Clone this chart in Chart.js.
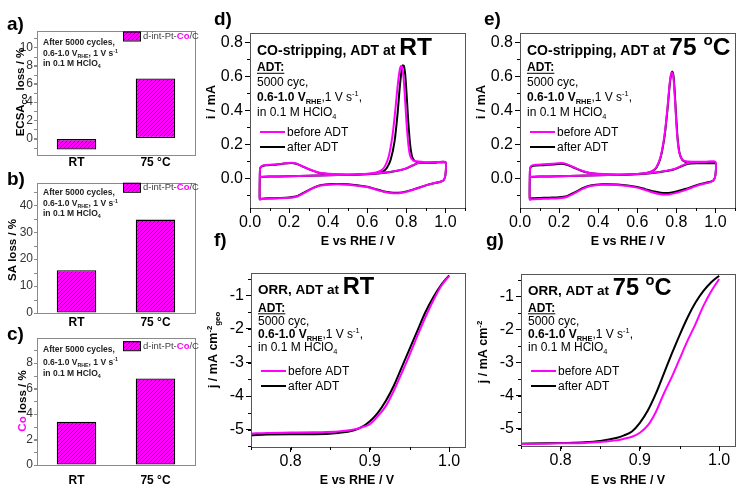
<!DOCTYPE html>
<html>
<head>
<meta charset="utf-8">
<title>d-int-Pt-Co/C ADT</title>
<script src="https://cdn.jsdelivr.net/npm/chart.js@4.4.1/dist/chart.umd.min.js"></script>
<style>
  html, body { margin: 0; padding: 0; background: #fff; }
  #fig { position: relative; width: 740px; height: 490px; overflow: hidden; }
  #fig canvas { position: absolute; left: 0; top: 0; }
</style>
</head>
<body>
<div id="fig">
  <canvas id="panel-a" width="740" height="490"></canvas>
  <canvas id="panel-b" width="740" height="490"></canvas>
  <canvas id="panel-c" width="740" height="490"></canvas>
  <canvas id="panel-d" width="740" height="490"></canvas>
  <canvas id="panel-e" width="740" height="490"></canvas>
  <canvas id="panel-f" width="740" height="490"></canvas>
  <canvas id="panel-g" width="740" height="490"></canvas>
</div>
<script>
// ---------- Data: bar panels a-c ----------
const barCats = ['RT', '75 °C'];
const ecsaLoss = [-1.2, 6.6];   // %
const saLoss = [15.9, 34.7];    // %
const coLoss = [3.4, 6.8];      // %
const ecsaTicks = [0, 2, 4, 6, 8, 10];
const saTicks = [0, 10, 20, 30, 40];
const coTicks = [0, 2, 4, 6, 8];

// ---------- Data: CO-stripping CVs (d, e) ----------
// tail of every loop: cathodic scan 1.0 -> 0.05 V, then 2nd anodic 0.05 -> 1.0 V
const cvReturnE = [1.00, 0.99, 0.97, 0.93, 0.90, 0.85, 0.80, 0.76, 0.72, 0.68, 0.64, 0.60, 0.50, 0.42, 0.36, 0.32, 0.28, 0.24, 0.20, 0.15, 0.10, 0.06, 0.05,
  0.05, 0.052, 0.06, 0.08, 0.12, 0.17, 0.21, 0.24, 0.27, 0.31, 0.35, 0.40, 0.50, 0.60, 0.68, 0.74, 0.79, 0.83, 0.86, 0.90, 1.00];

const cvRtBeforeE = [0.05, 0.10, 0.20, 0.30, 0.40, 0.50, 0.60, 0.64, 0.67, 0.69, 0.71, 0.73, 0.745, 0.755, 0.765, 0.772, 0.778, 0.785, 0.792, 0.80, 0.81, 0.82, 0.835, 0.85, 0.90, 0.95, 1.00, ...cvReturnE];
const cvRtBeforeI = [0.008, 0.010, 0.012, 0.015, 0.018, 0.021, 0.026, 0.032, 0.045, 0.07, 0.13, 0.26, 0.42, 0.54, 0.63, 0.66, 0.655, 0.60, 0.49, 0.34, 0.20, 0.13, 0.105, 0.10, 0.095, 0.095, 0.095,
  0.02, -0.012, -0.022, -0.032, -0.042, -0.062, -0.08, -0.088, -0.087, -0.078, -0.065, -0.052, -0.038, -0.036, -0.043, -0.06, -0.085, -0.108, -0.115, -0.118, -0.12, -0.122, -0.125,
  0.0, 0.06, 0.072, 0.078, 0.08, 0.087, 0.092, 0.085, 0.07, 0.05, 0.034, 0.026, 0.022, 0.025, 0.032, 0.042, 0.055, 0.075, 0.09, 0.093, 0.095];

const cvRtAfterE = [0.05, 0.10, 0.20, 0.30, 0.40, 0.50, 0.60, 0.65, 0.68, 0.70, 0.72, 0.74, 0.755, 0.765, 0.775, 0.782, 0.788, 0.795, 0.802, 0.81, 0.82, 0.83, 0.845, 0.87, 0.95, 1.00, ...cvReturnE];
const cvRtAfterI = [0.008, 0.010, 0.012, 0.015, 0.018, 0.021, 0.025, 0.03, 0.04, 0.06, 0.11, 0.22, 0.38, 0.52, 0.63, 0.665, 0.66, 0.60, 0.48, 0.33, 0.19, 0.125, 0.10, 0.093, 0.092, 0.095,
  0.02, -0.012, -0.022, -0.032, -0.042, -0.06, -0.077, -0.085, -0.084, -0.076, -0.063, -0.05, -0.035, -0.034, -0.041, -0.058, -0.082, -0.106, -0.113, -0.116, -0.118, -0.12, -0.123,
  0.0, 0.058, 0.07, 0.076, 0.079, 0.086, 0.09, 0.084, 0.069, 0.049, 0.033, 0.025, 0.021, 0.024, 0.031, 0.041, 0.054, 0.074, 0.089, 0.092, 0.095];

const cvHtBeforeE = [0.05, 0.10, 0.20, 0.30, 0.40, 0.50, 0.60, 0.65, 0.68, 0.70, 0.72, 0.74, 0.755, 0.765, 0.772, 0.778, 0.784, 0.79, 0.797, 0.805, 0.815, 0.83, 0.85, 0.90, 0.95, 1.00, ...cvReturnE];
const cvHtBeforeI = [0.008, 0.010, 0.012, 0.015, 0.018, 0.021, 0.025, 0.032, 0.045, 0.07, 0.13, 0.26, 0.42, 0.55, 0.61, 0.622, 0.60, 0.52, 0.38, 0.24, 0.15, 0.11, 0.10, 0.097, 0.097, 0.097,
  0.02, -0.013, -0.024, -0.035, -0.046, -0.068, -0.086, -0.095, -0.094, -0.084, -0.069, -0.055, -0.04, -0.038, -0.045, -0.062, -0.088, -0.11, -0.117, -0.12, -0.122, -0.124, -0.126,
  0.0, 0.06, 0.075, 0.08, 0.082, 0.086, 0.09, 0.083, 0.068, 0.048, 0.033, 0.026, 0.022, 0.025, 0.032, 0.042, 0.055, 0.075, 0.09, 0.095, 0.097];

const cvHtAfterE = [0.05, 0.10, 0.20, 0.30, 0.40, 0.50, 0.60, 0.65, 0.68, 0.70, 0.72, 0.74, 0.755, 0.765, 0.773, 0.779, 0.785, 0.791, 0.798, 0.806, 0.816, 0.83, 0.85, 0.90, 0.95, 1.00, ...cvReturnE];
const cvHtAfterI = [0.008, 0.010, 0.012, 0.015, 0.018, 0.021, 0.025, 0.031, 0.043, 0.066, 0.125, 0.25, 0.41, 0.54, 0.61, 0.628, 0.605, 0.52, 0.38, 0.24, 0.15, 0.108, 0.095, 0.09, 0.088, 0.09,
  0.02, -0.012, -0.022, -0.032, -0.042, -0.062, -0.078, -0.086, -0.085, -0.077, -0.064, -0.051, -0.037, -0.035, -0.042, -0.058, -0.083, -0.105, -0.112, -0.114, -0.116, -0.118, -0.12,
  0.0, 0.058, 0.07, 0.075, 0.077, 0.081, 0.085, 0.079, 0.065, 0.046, 0.032, 0.025, 0.021, 0.024, 0.031, 0.041, 0.053, 0.072, 0.085, 0.088, 0.09];

const cvETicks = [0, 0.2, 0.4, 0.6, 0.8, 1.0];
const cvITicks = [0, 0.2, 0.4, 0.6, 0.8];

// ---------- Data: ORR polarisation (f, g) ----------
const orrRtE = [0.75, 0.77, 0.80, 0.83, 0.86, 0.88, 0.89, 0.90, 0.91, 0.92, 0.93, 0.94, 0.95, 0.96, 0.97, 0.98, 0.99, 1.00];
const orrRtBefore = [-5.12, -5.10, -5.09, -5.08, -5.06, -5.00, -4.93, -4.84, -4.60, -4.30, -3.85, -3.32, -2.78, -2.20, -1.65, -1.15, -0.72, -0.42];
const orrRtAfter = [-5.17, -5.15, -5.14, -5.14, -5.10, -5.02, -4.92, -4.75, -4.50, -4.15, -3.70, -3.15, -2.60, -2.05, -1.50, -1.05, -0.68, -0.40];

const orrHtE = [0.75, 0.78, 0.80, 0.83, 0.85, 0.87, 0.88, 0.89, 0.90, 0.91, 0.92, 0.93, 0.94, 0.95, 0.96, 0.97, 0.98, 0.99, 1.00];
const orrHtBefore = [-5.46, -5.45, -5.44, -5.43, -5.40, -5.35, -5.30, -5.24, -5.12, -4.90, -4.50, -3.95, -3.45, -2.90, -2.35, -1.85, -1.30, -0.85, -0.48];
const orrHtAfter = [-5.45, -5.44, -5.43, -5.41, -5.37, -5.28, -5.20, -5.08, -4.82, -4.45, -3.95, -3.35, -2.75, -2.18, -1.65, -1.20, -0.85, -0.58, -0.38];

const orrETicks = [0.8, 0.9, 1.0];
const orrJTicks = [-5, -4, -3, -2, -1];

// ---------- Styles ----------
const FONT = '"Liberation Sans", Arial, Helvetica, sans-serif';
const MAG = '#ff00ff';
Chart.defaults.font.family = FONT;
Chart.defaults.color = '#000';

function hatchFill() {
  const c = document.createElement('canvas');
  c.width = 4; c.height = 4;
  const g = c.getContext('2d');
  g.fillStyle = MAG;
  g.fillRect(0, 0, 4, 4);
  g.strokeStyle = '#990099';
  g.lineWidth = 1;
  g.beginPath();
  g.moveTo(-1, 5); g.lineTo(5, -1);
  g.stroke();
  return g.createPattern(c, 'repeat');
}
const HATCH = hatchFill();

const pts = (xs, ys) => xs.map((x, k) => ({ x, y: ys[k] }));

// text made of runs: {t, b: bold, sub, sup, u: underline, c: colour, k: size factor}
function drawRuns(ctx, item) {
  const base = item.size;
  const parts = item.runs.map(r => {
    const s = base * (r.k || 1);
    const fs = (r.sub || r.sup) ? s * 0.62 : s;
    const font = (r.b ? 'bold ' : '') + fs + 'px ' + FONT;
    ctx.font = font;
    let dy = base * 0.358;
    if (r.sub) dy += s * 0.22;
    if (r.sup) dy -= s * 0.42;
    return { r, font, dy, w: ctx.measureText(r.t).width };
  });
  const total = parts.reduce((a, p) => a + p.w, 0);
  ctx.save();
  ctx.translate(item.x, item.y);
  if (item.rot) ctx.rotate(-Math.PI / 2);
  ctx.textBaseline = 'alphabetic';
  ctx.textAlign = 'left';
  let x = item.align === 'center' ? -total / 2 : 0;
  parts.forEach(p => {
    ctx.font = p.font;
    ctx.fillStyle = p.r.c || item.color || '#000';
    ctx.fillText(p.r.t, x, p.dy);
    if (p.r.u) ctx.fillRect(x, p.dy + 1.5, p.w, 1);
    x += p.w;
  });
  ctx.restore();
}

// frame box, short minor ticks, legend swatches and all annotation text
const decor = {
  id: 'decor',
  afterDraw(chart, args, o) {
    const ctx = chart.ctx, a = chart.chartArea;
    ctx.save();
    ctx.strokeStyle = o.frame;
    ctx.lineWidth = 1;
    ctx.strokeRect(a.left + 0.5, a.top + 0.5, a.right - a.left, a.bottom - a.top);

    ctx.strokeStyle = o.tick || o.frame;
    ctx.beginPath();
    const xs = chart.scales.x, ys = chart.scales.y;
    if (o.minorX) {
      for (let k = Math.ceil(xs.min / o.minorX - 1e-6); k * o.minorX <= xs.max + 1e-9; k++) {
        const px = Math.round(xs.getPixelForValue(k * o.minorX)) + 0.5;
        ctx.moveTo(px, a.bottom); ctx.lineTo(px, a.bottom + 3);
      }
    }
    if (o.minorY) {
      for (let k = Math.ceil(ys.min / o.minorY - 1e-6); k * o.minorY <= ys.max + 1e-9; k++) {
        const py = Math.round(ys.getPixelForValue(k * o.minorY)) + 0.5;
        ctx.moveTo(a.left, py); ctx.lineTo(a.left - 3, py);
      }
    }
    ctx.stroke();

    (o.lines || []).forEach(l => {
      ctx.strokeStyle = l.c;
      ctx.lineWidth = 2;
      ctx.beginPath();
      ctx.moveTo(l.x1, l.y); ctx.lineTo(l.x2, l.y);
      ctx.stroke();
    });
    (o.boxes || []).forEach(bx => {
      ctx.fillStyle = HATCH;
      ctx.fillRect(bx.x, bx.y, bx.w, bx.h);
      ctx.strokeStyle = '#000';
      ctx.lineWidth = 1;
      ctx.strokeRect(bx.x + 0.5, bx.y + 0.5, bx.w, bx.h);
    });
    (o.texts || []).forEach(t => drawRuns(ctx, t));
    ctx.restore();
  }
};

// ---------- Bar panels ----------
function barNotes(label, labelY, ys, legendY) {
  return {
    boxes: [{ x: 123, y: legendY - 5, w: 17, h: 9 }],
    texts: [
      { x: 7, y: labelY, size: 19, runs: [{ t: label, b: 1 }] },
      { x: 43, y: ys[0], size: 8.5, color: '#222', runs: [{ t: 'After 5000 cycles,', b: 1 }] },
      { x: 43, y: ys[1], size: 8.5, color: '#222', runs: [{ t: '0.6-1.0 V', b: 1 }, { t: 'RHE', b: 1, sub: 1 }, { t: ', 1 V s', b: 1 }, { t: '-1', b: 1, sup: 1 }] },
      { x: 43, y: ys[2], size: 8.5, color: '#222', runs: [{ t: 'in 0.1 M HClO', b: 1 }, { t: '4', b: 1, sub: 1 }] },
      { x: 143, y: legendY - 1, size: 9.5, color: '#444', runs: [{ t: 'd-int-Pt-' }, { t: 'Co', b: 1, c: MAG }, { t: '/C' }] }
    ]
  };
}

function barPanel(id, vals, ticks, yMin, yMax, minor, area, labelPad, notes) {
  const grey = '#8a8a8a';
  return new Chart(document.getElementById(id), {
    type: 'bar',
    data: {
      labels: barCats,
      datasets: [{
        data: vals, backgroundColor: HATCH, borderColor: '#000', borderWidth: 1.3,
        borderSkipped: false, barPercentage: 0.5, categoryPercentage: 1
      }]
    },
    options: {
      responsive: false, animation: false, events: [], devicePixelRatio: 1,
      layout: { padding: { left: area[0] - 30, top: area[1], right: 740 - area[2], bottom: 490 - area[3] - 25 } },
      plugins: {
        legend: { display: false }, tooltip: { enabled: false },
        decor: Object.assign({ frame: grey, minorY: minor }, notes)
      },
      scales: {
        x: {
          grid: { display: false, drawTicks: false }, border: { color: grey },
          ticks: { color: '#000', padding: labelPad, font: { size: 12, weight: 'bold' } },
          afterFit: s => { s.height = 25; }
        },
        y: {
          min: yMin, max: yMax,
          grid: { drawOnChartArea: false, tickLength: 3, color: grey }, border: { color: grey },
          ticks: { color: '#333', padding: 1, font: { size: 12 } },
          afterBuildTicks: s => { s.ticks = ticks.map(v => ({ value: v })); },
          afterFit: s => { s.width = 30; }
        }
      }
    },
    plugins: [decor]
  });
}

const notesA = barNotes('a)', 23, [41.7, 53.3, 63.3], 36.5);
notesA.texts.push({ x: 20, y: 92, size: 11.5, rot: 1, align: 'center', runs: [{ t: 'ECSA', b: 1 }, { t: 'CO', b: 1, sub: 1 }, { t: ' loss / %', b: 1 }] });
barPanel('panel-a', ecsaLoss, ecsaTicks, -1.8, 11.8, 1, [37, 31, 195, 155], 0, notesA);

const notesB = barNotes('b)', 178, [191.7, 203.3, 213.3], 187.8);
notesB.texts.push({ x: 12, y: 250, size: 11.5, rot: 1, align: 'center', runs: [{ t: 'SA loss / %', b: 1 }] });
barPanel('panel-b', saLoss, saTicks, 0, 48.3, 5, [37, 183, 195, 313], 2, notesB);

const notesC = barNotes('c)', 333, [349.3, 361.7, 372.7], 346.2);
notesC.texts.push({ x: 22, y: 401, size: 11.5, rot: 1, align: 'center', runs: [{ t: 'Co', b: 1, c: MAG }, { t: ' loss / %', b: 1 }] });
barPanel('panel-c', coLoss, coTicks, 0, 9.97, 1, [37, 338, 195, 465], 8, notesC);

// ---------- Line panels ----------
const bigRT = [{ t: 'RT', b: 1, k: 1.75 }];
const big75 = [{ t: '75 ', b: 1, k: 1.75 }, { t: 'o', b: 1, k: 1.75, sup: 1 }, { t: 'C', b: 1, k: 1.75 }];

function adtNotes(x, ys, title, titleSize, big) {
  return {
    lines: [
      { x1: x + 3, x2: x + 28, y: ys[5], c: MAG },
      { x1: x + 3, x2: x + 28, y: ys[6], c: '#000' }
    ],
    texts: [
      { x, y: ys[0], size: titleSize, runs: [{ t: title, b: 1 }].concat(big) },
      { x, y: ys[1], size: 12, runs: [{ t: 'ADT:', b: 1, u: 1 }] },
      { x, y: ys[2], size: 12, runs: [{ t: '5000 cyc,' }] },
      { x, y: ys[3], size: 12, runs: [{ t: '0.6-1.0 V', b: 1 }, { t: 'RHE', b: 1, sub: 1 }, { t: ',1 V s' }, { t: '-1', sup: 1 }, { t: ',' }] },
      { x, y: ys[4], size: 12, runs: [{ t: 'in 0.1 M HClO' }, { t: '4', sub: 1 }] },
      { x: x + 30, y: ys[5], size: 12, runs: [{ t: 'before ADT' }] },
      { x: x + 30, y: ys[6], size: 12, runs: [{ t: 'after ADT' }] }
    ]
  };
}

function lineSet(data, color, smooth) {
  const ds = { data, borderColor: color, borderWidth: 2, showLine: true, pointRadius: 0 };
  if (smooth === 'mono') ds.cubicInterpolationMode = 'monotone';
  else ds.tension = 0.2;
  return ds;
}

function xyPanel(id, cfg) {
  return new Chart(document.getElementById(id), {
    type: 'scatter',
    data: { datasets: cfg.sets },
    options: {
      responsive: false, animation: false, events: [], devicePixelRatio: 1,
      layout: { padding: { left: cfg.area[0] - 40, top: cfg.area[1], right: 740 - cfg.area[2], bottom: 490 - cfg.area[3] - 40 } },
      plugins: {
        legend: { display: false }, tooltip: { enabled: false },
        decor: Object.assign({ frame: '#555', tick: '#000', minorX: cfg.minor[0], minorY: cfg.minor[1] }, cfg.notes)
      },
      scales: {
        x: {
          type: 'linear', min: cfg.x[0], max: cfg.x[1],
          grid: { drawOnChartArea: false, tickLength: 5, color: '#000' }, border: { color: '#555' },
          ticks: { padding: 0, font: { size: 16 }, callback: v => v.toFixed(1) },
          afterBuildTicks: s => { s.ticks = cfg.xTicks.map(v => ({ value: v })); },
          afterFit: s => { s.height = 40; }
        },
        y: {
          min: cfg.y[0], max: cfg.y[1],
          grid: { drawOnChartArea: false, tickLength: 5, color: '#000' }, border: { color: '#555' },
          ticks: { padding: 2, font: { size: 16 }, callback: cfg.yFmt },
          afterBuildTicks: s => { s.ticks = cfg.yTicks.map(v => ({ value: v })); },
          afterFit: s => { s.width = 40; }
        }
      }
    },
    plugins: [decor]
  });
}

function withAxes(notes, extra) {
  notes.texts = extra.concat(notes.texts);
  return notes;
}

// d) CO stripping, ADT at RT
xyPanel('panel-d', {
  area: [250, 33, 465, 208], x: [0, 1.1], y: [-0.175, 0.855], minor: [0.1, 0.1],
  xTicks: cvETicks, yTicks: cvITicks, yFmt: v => v.toFixed(1),
  sets: [lineSet(pts(cvRtBeforeE, cvRtBeforeI), MAG), lineSet(pts(cvRtAfterE, cvRtAfterI), '#000')],
  notes: withAxes(adtNotes(257, [50, 67, 82, 97, 112, 132, 147], 'CO-stripping, ADT at ', 14, bigRT), [
    { x: 214, y: 18, size: 19, runs: [{ t: 'd)', b: 1 }] },
    { x: 211, y: 102, size: 12.5, rot: 1, align: 'center', runs: [{ t: 'i / mA', b: 1 }] },
    { x: 358, y: 241, size: 12.5, align: 'center', runs: [{ t: 'E vs RHE / V', b: 1 }] }
  ])
});

// e) CO stripping, ADT at 75 °C
xyPanel('panel-e', {
  area: [520, 33, 735, 208], x: [0, 1.1], y: [-0.175, 0.855], minor: [0.1, 0.1],
  xTicks: cvETicks, yTicks: cvITicks, yFmt: v => v.toFixed(1),
  sets: [lineSet(pts(cvHtBeforeE, cvHtBeforeI), MAG), lineSet(pts(cvHtAfterE, cvHtAfterI), '#000')],
  notes: withAxes(adtNotes(527, [50, 67, 82, 97, 112, 132, 147], 'CO-stripping, ADT at ', 14, big75), [
    { x: 484, y: 18, size: 19, runs: [{ t: 'e)', b: 1 }] },
    { x: 481, y: 102, size: 12.5, rot: 1, align: 'center', runs: [{ t: 'i / mA', b: 1 }] },
    { x: 628, y: 241, size: 12.5, align: 'center', runs: [{ t: 'E vs RHE / V', b: 1 }] }
  ])
});

// f) ORR, ADT at RT
xyPanel('panel-f', {
  area: [251, 273, 465, 447], x: [0.75, 1.02], y: [-5.52, -0.33], minor: [0.05, 0.5],
  xTicks: orrETicks, yTicks: orrJTicks, yFmt: v => String(v),
  sets: [lineSet(pts(orrRtE, orrRtBefore), MAG, 'mono'), lineSet(pts(orrRtE, orrRtAfter), '#000', 'mono')],
  notes: withAxes(adtNotes(258, [289, 307.5, 321, 334, 347, 371, 386], 'ORR, ADT at ', 13.5, bigRT), [
    { x: 214, y: 239, size: 19, runs: [{ t: 'f)', b: 1 }] },
    { x: 213, y: 350, size: 12.5, rot: 1, align: 'center', runs: [{ t: 'j / mA cm', b: 1 }, { t: '-2', b: 1, sup: 1 }, { t: 'geo', b: 1, sub: 1 }] },
    { x: 357, y: 480, size: 12.5, align: 'center', runs: [{ t: 'E vs RHE / V', b: 1 }] }
  ])
});

// g) ORR, ADT at 75 °C
xyPanel('panel-g', {
  area: [521, 274, 735, 446], x: [0.75, 1.02], y: [-5.52, -0.33], minor: [0.05, 0.5],
  xTicks: orrETicks, yTicks: orrJTicks, yFmt: v => String(v),
  sets: [lineSet(pts(orrHtE, orrHtBefore), MAG, 'mono'), lineSet(pts(orrHtE, orrHtAfter), '#000', 'mono')],
  notes: withAxes(adtNotes(528, [290, 307.5, 321, 334, 347, 371, 386], 'ORR, ADT at ', 13.5, big75), [
    { x: 486, y: 239, size: 19, runs: [{ t: 'g)', b: 1 }] },
    { x: 483, y: 352, size: 12.5, rot: 1, align: 'center', runs: [{ t: 'j / mA cm', b: 1 }, { t: '-2', b: 1, sup: 1 }] },
    { x: 628, y: 480, size: 12.5, align: 'center', runs: [{ t: 'E vs RHE / V', b: 1 }] }
  ])
});
</script>
</body>
</html>
